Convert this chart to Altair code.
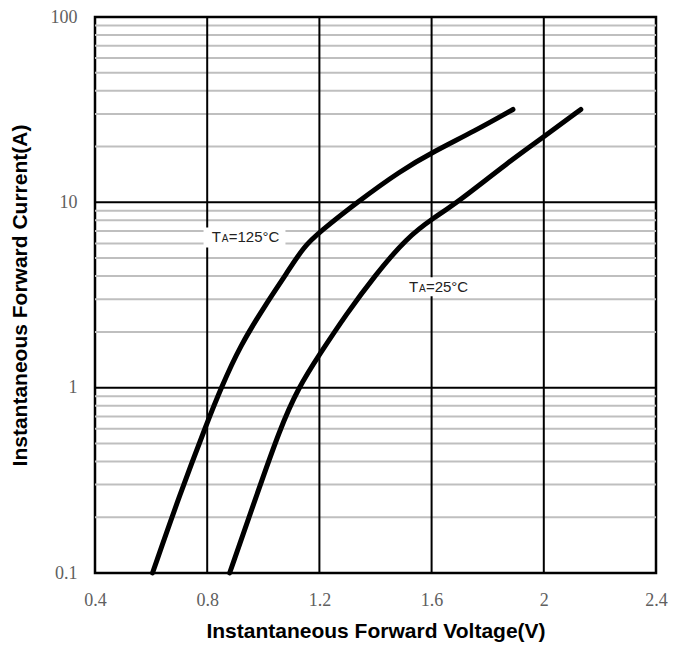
import altair as alt
import pandas as pd

# Curve data (V, A)
v125 = [0.605, 0.701, 0.80, 0.85, 0.916, 1.011, 1.083, 1.143, 1.20, 1.334, 1.489, 1.611, 1.752, 1.89]
i125 = [0.1, 0.262, 0.65, 1.0, 1.67, 2.85, 4.13, 5.74, 6.9, 10.0, 14.8, 18.9, 24.2, 31.7]
v25 = [0.88, 0.976, 1.059, 1.125, 1.20, 1.298, 1.394, 1.513, 1.611, 1.692, 1.872, 2.013, 2.132]
i25 = [0.1, 0.262, 0.598, 1.0, 1.51, 2.52, 3.96, 6.49, 8.31, 10.0, 16.4, 23.3, 31.7]

x_ticks = [0.4, 0.8, 1.2, 1.6, 2.0, 2.4]
x_major_grid = [0.8, 1.2, 1.6, 2.0]
y_ticks = [0.1, 1, 10, 100]
y_major_grid = [1, 10]
y_minor_grid = [m * d for d in [0.1, 1, 10] for m in range(2, 10)]

label_names = ["125", "25"]
label_suffix = ["=125°C", "=25°C"]
label_v = [0.816, 1.519]
label_i = [6.5, 3.48]
box_v1 = [0.787, 1.473]
box_v2 = [1.079, 1.760]
box_i1 = [5.71, 3.11]
box_i2 = [7.32, 3.94]

xs = alt.Scale(domain=[0.4, 2.4], nice=False, zero=False)
ys = alt.Scale(type="log", domain=[0.1, 100], nice=False)

xa = alt.Axis(
    values=x_ticks, format="~g", title="Instantaneous Forward Voltage(V)",
    grid=False, ticks=False, domain=False, labelFont="Liberation Serif",
    labelFontSize=18, labelColor="#606060", labelPadding=18, labelFlush=False,
    labelOverlap=False, titleFont="Liberation Sans", titleFontSize=21,
    titleFontWeight="bold", titleColor="black", titlePadding=11)
ya = alt.Axis(
    values=y_ticks, format="~g", title="Instantaneous Forward Current(A)",
    grid=False, ticks=False, domain=False, labelFont="Liberation Serif",
    labelFontSize=18, labelColor="#606060", labelPadding=18, labelFlush=False,
    labelOverlap=False, titleFont="Liberation Sans", titleFontSize=21,
    titleFontWeight="bold", titleColor="black", titlePadding=20)

curves = pd.DataFrame(
    {"v": v125 + v25, "i": i125 + i25,
     "s": ["125"] * len(v125) + ["25"] * len(v25)}
)
labels = pd.DataFrame({"n": label_names, "suf": label_suffix, "v": label_v, "i": label_i,
                       "v1": box_v1, "v2": box_v2, "i1": box_i1, "i2": box_i2})

minor = alt.Chart(pd.DataFrame({"i": y_minor_grid})).mark_rule(
    color="#bfbfbf", strokeWidth=2
).encode(y=alt.Y("i:Q", scale=ys, axis=ya))

hmajor = alt.Chart(pd.DataFrame({"i": y_major_grid})).mark_rule(
    color="black", strokeWidth=2
).encode(y=alt.Y("i:Q", scale=ys, axis=ya))

vmajor = alt.Chart(pd.DataFrame({"v": x_major_grid})).mark_rule(
    color="black", strokeWidth=2
).encode(x=alt.X("v:Q", scale=xs, axis=xa))

boxes = alt.Chart(labels).mark_rect(fill="white").encode(
    x=alt.X("v1:Q", scale=xs, axis=xa), x2="v2:Q",
    y=alt.Y("i1:Q", scale=ys, axis=ya), y2="i2:Q",
)

lines = alt.Chart(curves).mark_line(
    color="black", strokeWidth=5, strokeCap="round", strokeJoin="round",
    interpolate="basis"
).encode(
    x=alt.X("v:Q", scale=xs, axis=xa),
    y=alt.Y("i:Q", scale=ys, axis=ya),
    detail="s:N",
)

base_txt = alt.Chart(labels)
t_T = base_txt.mark_text(align="left", baseline="middle", fontSize=15,
                         font="Liberation Sans", color="#222222").encode(
    x=alt.X("v:Q", scale=xs, axis=xa), y=alt.Y("i:Q", scale=ys, axis=ya),
    text=alt.value("T"))
t_A = base_txt.mark_text(align="left", baseline="middle", fontSize=10, dx=10, dy=2,
                         font="Liberation Sans", color="#222222").encode(
    x=alt.X("v:Q", scale=xs, axis=xa), y=alt.Y("i:Q", scale=ys, axis=ya),
    text=alt.value("A"))
t_rest = base_txt.mark_text(align="left", baseline="middle", fontSize=15, dx=17,
                            font="Liberation Sans", color="#222222").encode(
    x=alt.X("v:Q", scale=xs, axis=xa), y=alt.Y("i:Q", scale=ys, axis=ya),
    text="suf:N")

chart = alt.layer(minor, hmajor, vmajor, boxes, lines, t_T, t_A, t_rest).properties(
    width=561, height=556,
    autosize=alt.AutoSizeParams(type="none"),
    padding={"left": 87, "top": 9, "right": 12, "bottom": 72},
).configure_view(stroke="black", strokeWidth=2.5)

chart.save("out.html", embed_options={"renderer": "svg", "actions": False})
